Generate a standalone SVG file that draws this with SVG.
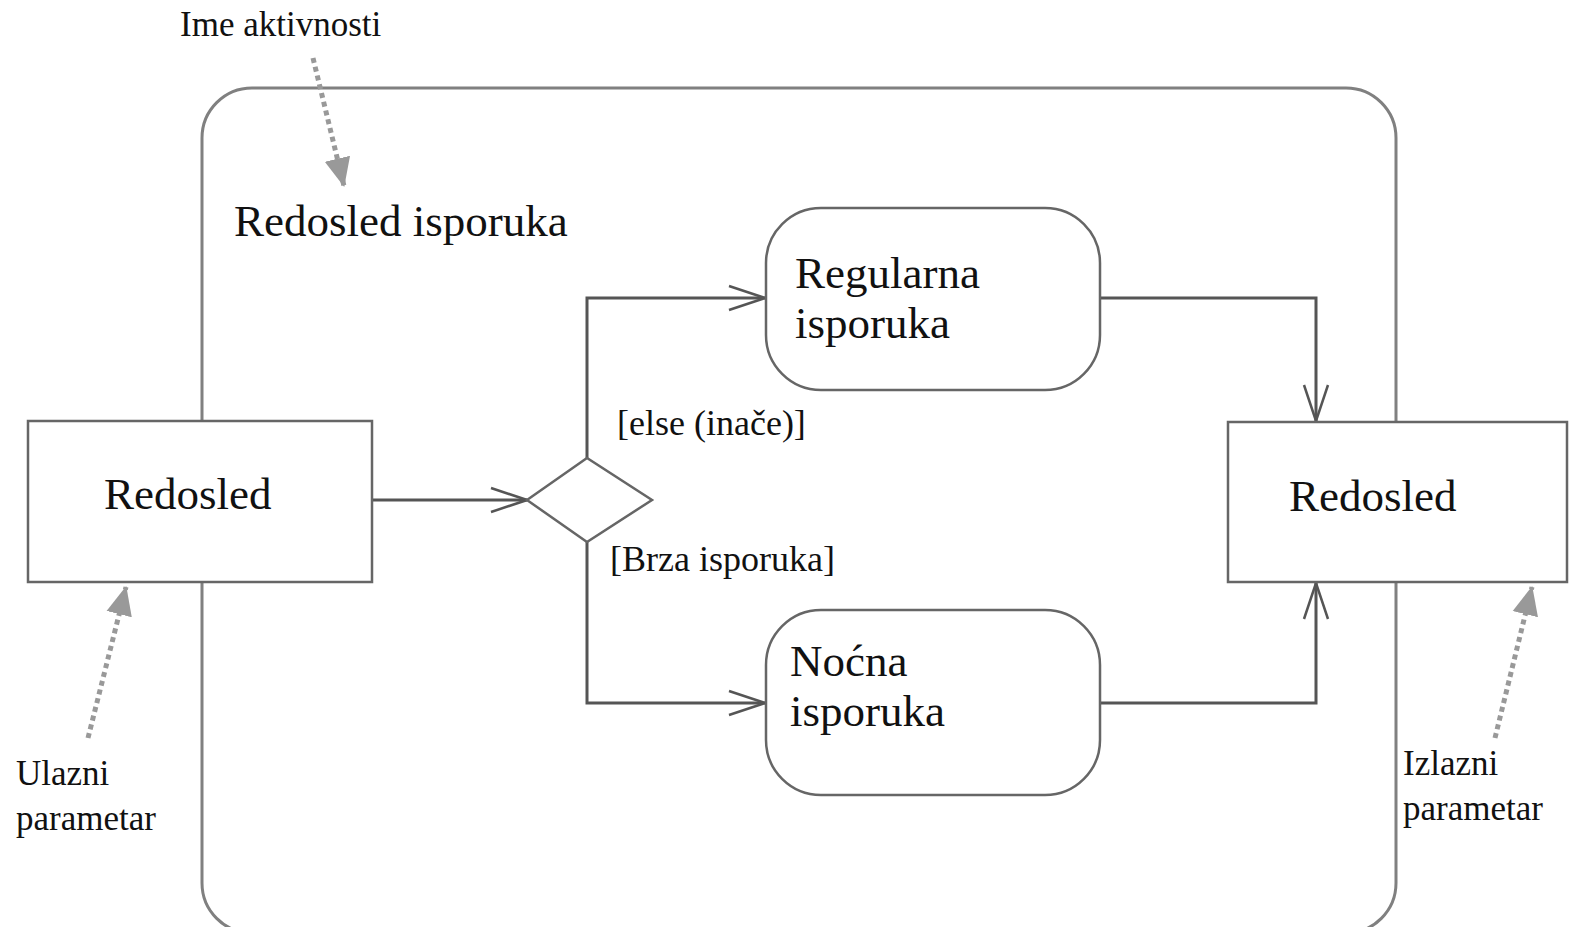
<svg xmlns="http://www.w3.org/2000/svg" width="1572" height="927" viewBox="0 0 1572 927">
  <defs>
    <marker id="open" viewBox="0 0 40 28" refX="38" refY="14" markerWidth="40" markerHeight="28" markerUnits="userSpaceOnUse" orient="auto">
      <path d="M2,2 L38,14 L2,26" fill="none" stroke="#555" stroke-width="2.5"/>
    </marker>
    <marker id="note" viewBox="0 0 30 30" refX="28" refY="15" markerWidth="30" markerHeight="30" markerUnits="userSpaceOnUse" orient="auto">
      <path d="M0,2 L29,15 L0,28 Z" fill="#999"/>
    </marker>
  </defs>
  <style>
    .frame { fill: none; stroke: #808080; stroke-width: 3; }
    .box { fill: #fff; stroke: #666; stroke-width: 2.5; }
    .flow { fill: none; stroke: #555; stroke-width: 3; }
    .hint { fill: none; stroke: #999; stroke-width: 5; stroke-dasharray: 5 4; }
    .t { font-family: "Liberation Serif", "Times New Roman", serif; fill: #111; }
    .big { font-size: 45px; }
    .mid { font-size: 36px; }
    .small { font-size: 35px; }
  </style>
  <rect width="1572" height="927" fill="#fff"/>

  <!-- activity frame -->
  <g id="activity">
    <rect class="frame" x="202" y="88" width="1194" height="845" rx="50"/>
    <text class="t big" x="234" y="236">Redosled isporuka</text>
  </g>

  <!-- connectors -->
  <g id="connectors">
    <line class="flow" x1="372" y1="500" x2="527" y2="500" marker-end="url(#open)"/>
    <polyline class="flow" points="587,458 587,298 765,298" marker-end="url(#open)"/>
    <polyline class="flow" points="587,542 587,703 765,703" marker-end="url(#open)"/>
    <polyline class="flow" points="1100,298 1316,298 1316,421" marker-end="url(#open)"/>
    <polyline class="flow" points="1100,703 1316,703 1316,583" marker-end="url(#open)"/>
    <line class="hint" x1="313" y1="58" x2="344" y2="186" marker-end="url(#note)"/>
    <line class="hint" x1="88" y1="738" x2="126" y2="587" marker-end="url(#note)"/>
    <line class="hint" x1="1495" y1="738" x2="1532" y2="587" marker-end="url(#note)"/>
  </g>

  <g id="input-param">
    <rect class="box" x="28" y="421" width="344" height="161"/>
    <text class="t big" x="104" y="509">Redosled</text>
  </g>

  <g id="output-param">
    <rect class="box" x="1228" y="422" width="339" height="160"/>
    <text class="t big" x="1289" y="511">Redosled</text>
  </g>

  <g id="decision">
    <polygon class="box" points="527,500 587,458 652,500 587,542"/>
    <text class="t mid" x="617" y="435">[else (inače)]</text>
    <text class="t mid" x="610" y="571">[Brza isporuka]</text>
  </g>

  <g id="regular">
    <rect class="box" x="766" y="208" width="334" height="182" rx="55"/>
    <text class="t big" x="795" y="288">Regularna</text>
    <text class="t big" x="795" y="338">isporuka</text>
  </g>

  <g id="night">
    <rect class="box" x="766" y="610" width="334" height="185" rx="55"/>
    <text class="t big" x="790" y="676">Noćna</text>
    <text class="t big" x="790" y="726">isporuka</text>
  </g>

  <g id="labels">
    <text class="t small" x="180" y="36">Ime aktivnosti</text>
    <text class="t small" x="16" y="785">Ulazni</text>
    <text class="t small" x="16" y="830">parametar</text>
    <text class="t small" x="1403" y="775">Izlazni</text>
    <text class="t small" x="1403" y="820">parametar</text>
  </g>
</svg>
